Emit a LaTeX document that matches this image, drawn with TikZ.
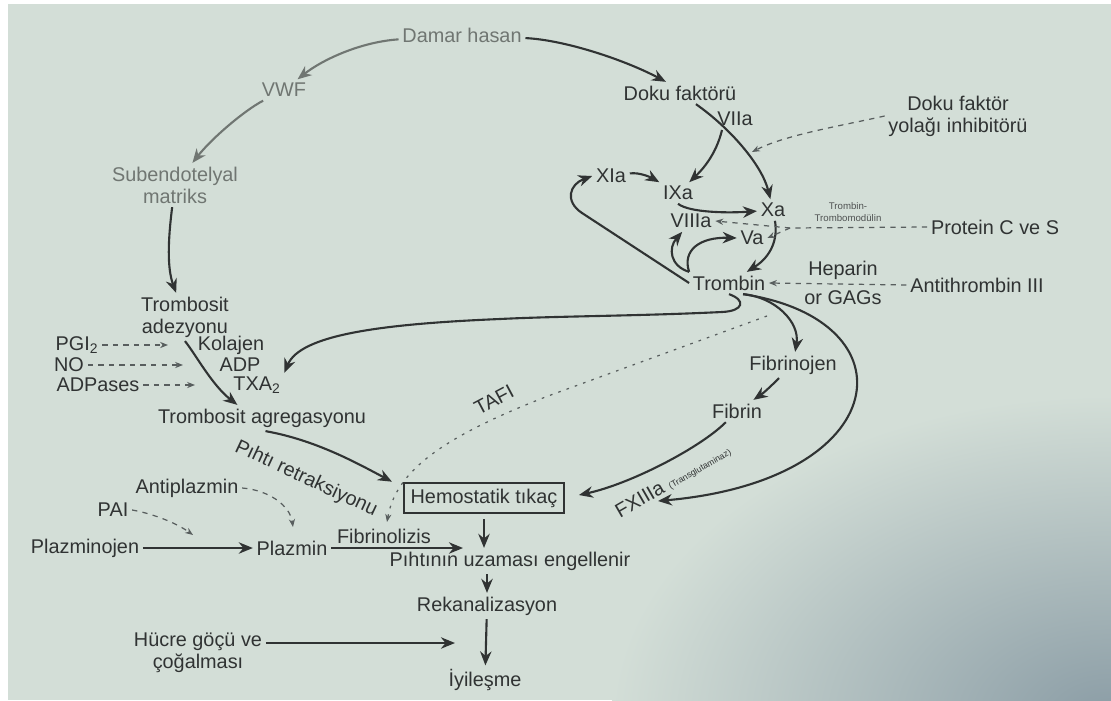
\documentclass[tikz,border=0pt]{standalone}
\usepackage{fontspec}
\setmainfont{Liberation Sans}
\usetikzlibrary{arrows.meta,positioning,calc}
\definecolor{paper}{RGB}{211,222,215}
\definecolor{paperdark}{RGB}{138,156,165}
\definecolor{ink}{RGB}{48,51,51}
\definecolor{inkgray}{RGB}{112,118,114}
\definecolor{inkdash}{RGB}{88,94,94}

\begin{document}
\begin{tikzpicture}[x=0.02cm, y=-0.02cm,
    lbl/.style={font=\fontsize{11.3}{12.5}\selectfont, text=ink, inner sep=2pt, align=center},
    glbl/.style={lbl, text=inkgray},
    smalllbl/.style={font=\fontsize{5.5}{7}\selectfont, text=ink!85, inner sep=1pt, align=center},
    plug/.style={lbl, draw=ink, line width=1.4pt, minimum width=91pt, minimum height=17pt, inner sep=1pt},
    arr/.style={-{Stealth[length=8pt,width=6.5pt]}, line width=1.2pt, draw=ink},
    garr/.style={arr, draw=inkgray},
    darr/.style={-{Stealth[length=4.5pt,width=3.5pt]}, line width=0.7pt, draw=inkdash, dash pattern=on 3pt off 3pt},
    dotarr/.style={darr, dash pattern=on 1.5pt off 3.5pt}
  ]
  \useasboundingbox (0,0) rectangle (1111,700);
  \fill[white] (0,0) rectangle (1111,700);
  \begin{scope}
    \clip (8,4) rectangle (1111,700);
    \fill[paper] (8,4) rectangle (1111,700);
    \shade[inner color=paperdark, outer color=paper] (1111,720) ellipse [x radius=10cm, y radius=6.5cm];
  \end{scope}

  \node[glbl] (dh) at (462,35) {Damar hasan};
  \node[glbl] (vwf) at (284,90) {VWF};
  \node[glbl] (sub) at (175,185) {Subendotelyal\\matriks};
  \node[lbl] (adez) at (185,317) {Trombosit\\adezyonu};
  \node[lbl] (pgi) at (77,345) {PGI\textsubscript{2}};
  \node[lbl] (no) at (69,365) {NO};
  \node[lbl] (adpase) at (98,385) {ADPases};
  \node[lbl] (kol) at (231,345) {Kolajen};
  \node[lbl] (adp) at (240,365) {ADP};
  \node[lbl] (txa) at (257,385) {TXA\textsubscript{2}};
  \node[lbl] (agreg) at (262,418) {Trombosit agregasyonu};
  \node[lbl, rotate=-25] (retr) at (306,479) {Pıhtı retraksiyonu};
  \node[lbl, rotate=28] (tafi) at (494,400) {TAFI};
  \node[plug] (hemo) at (484,498) {Hemostatik tıkaç};
  \node[lbl] (antip) at (187,488) {Antiplazmin};
  \node[lbl] (pai) at (113,510) {PAI};
  \node[lbl] (plgn) at (85,548) {Plazminojen};
  \node[lbl] (plaz) at (292,548) {Plazmin};
  \node[lbl] (pih) at (510,561) {Pıhtının uzaması engellenir};
  \node[lbl] (rekan) at (487,606) {Rekanalizasyon};
  \node[lbl] (iyi) at (485,680) {İyileşme};
  \node[lbl] (hucre) at (198,653) {Hücre göçü ve\\çoğalması};

  \node[lbl] (doku) at (680,93) {Doku faktörü};
  \node[lbl] (viia) at (735,119) {VIIa};
  \node[lbl] (dfyi) at (958,116) {Doku faktör\\yolağı inhibitörü};
  \node[lbl] (xia) at (611,176) {XIa};
  \node[lbl] (ixa) at (678,193) {IXa};
  \node[lbl] (xa) at (773,210) {Xa};
  \node[lbl] (viiia) at (691,221) {VIIIa};
  \node[lbl] (va) at (752,238) {Va};
  \node[lbl] (trom) at (729,283) {Trombin};
  \node[smalllbl] (tm) at (848,212) {Trombin-\\Trombomodülin};
  \node[lbl] (prot) at (995,227) {Protein C ve S};
  \node[lbl] (hep) at (843,270) {Heparin};
  \node[lbl] (gags) at (843,298) {or GAGs};
  \node[lbl] (at3) at (977,285) {Antithrombin III};
  \node[lbl] (fibno) at (793,365) {Fibrinojen};
  \node[lbl] (fibr) at (737,411) {Fibrin};
  \node[lbl, rotate=30] (fx) at (673,481) {FXIIIa {\fontsize{5}{6}\selectfont(Transglutaminaz)}};

  \coordinate (vsp) at (722,130);
  \coordinate (pgiend) at (168,345);
  \coordinate (noend) at (183,365);
  \coordinate (adpend) at (195,385);
  \coordinate (pcs) at (790,228);
  \coordinate (tfpi) at (752,152);
  \coordinate (tafis) at (767,316);
  \coordinate (tafiend) at (387,522);
  \coordinate (fxend) at (658,501);
  \coordinate (antiend) at (293,527);
  \coordinate (paiend) at (193,535);
  \coordinate (fibend) at (463,548);
  \coordinate (hucend) at (455,643);

  \draw[garr] (dh) .. controls (360,42) and (322,60) .. (vwf);
  \draw[garr] (vwf) .. controls (245,110) and (212,138) .. (sub);
  \draw[arr] (dh) .. controls (565,40) and (625,60) .. ([xshift=-8pt]doku.north);
  \draw[arr] (sub) .. controls (168,240) and (167,268) .. (adez);
  \draw[arr] (adez.south) .. controls (196,355) and (212,385) .. ([xshift=-14pt]agreg.north);
  \draw[darr] (pgi) -- (pgiend);
  \draw[darr] (no) -- (noend);
  \draw[darr] (adpase) -- (adpend);
  \draw[arr] (trom.south) .. controls (746,300) and (744,311) .. (722,312) .. controls (640,316) and (560,316) .. (500,319) .. controls (380,324) and (300,335) .. (txa.north east);
  \draw[arr, shorten >=7pt] ([xshift=2pt]agreg.south) .. controls (315,440) and (355,462) .. ([yshift=6pt]hemo.west);
  \draw[dotarr] (tafis) -- (548,396) .. controls (445,436) and (396,470) .. (tafiend);
  \draw[darr] (antip.east) .. controls (268,490) and (290,505) .. (antiend);
  \draw[darr] (pai.east) .. controls (150,513) and (175,522) .. (paiend);
  \draw[arr] (plgn) -- (plaz);
  \draw[arr] (plaz) -- node[lbl, above, pos=0.4] {Fibrinolizis} (fibend);
  \draw[arr, shorten <=3pt] (hemo) -- (hemo |- pih.north);
  \draw[arr] (rekan |- pih.south) -- (rekan);
  \draw[arr] (rekan) -- (iyi);
  \draw[arr] (hucre.east |- hucend) -- (hucend);

  \draw[arr] (doku) .. controls (730,128) and (762,165) .. (xa);
  \draw[arr] (vsp) .. controls (716,155) and (702,170) .. (ixa);
  \draw[arr] (xia) .. controls (640,172) and (652,178) .. (ixa);
  \draw[arr] (ixa.south) .. controls (690,213) and (730,213) .. (xa);
  \draw[arr] (xa) .. controls (778,238) and (772,256) .. (trom);
  \draw[arr] (trom.west) -- (582,213) .. controls (564,201) and (570,184) .. (xia.west);
  \draw[arr] (trom.north west) .. controls (670,266) and (668,248) .. ([xshift=-5pt]viiia.south);
  \draw[arr] (trom.north west) .. controls (682,250) and (700,237) .. (va.west);
  \draw[darr] (prot.west) -- (pcs) -- (viiia.east);
  \draw[darr] (pcs) -- (va.east);
  \draw[darr] (dfyi.west) .. controls (840,126) and (785,135) .. (tfpi);
  \draw[darr] (at3.west) -- (trom.east);
  \draw[arr] ([xshift=8pt]trom.south) .. controls (775,297) and (800,322) .. (fibno);
  \draw[arr] (fibno) .. controls (775,382) and (765,392) .. (fibr);
  \draw[arr, shorten >=8pt] (fibr) .. controls (700,448) and (630,484) .. (hemo.east);
  \draw[arr] ([xshift=8pt]trom.south) .. controls (915,320) and (895,480) .. (fxend);
\end{tikzpicture}
\end{document}
